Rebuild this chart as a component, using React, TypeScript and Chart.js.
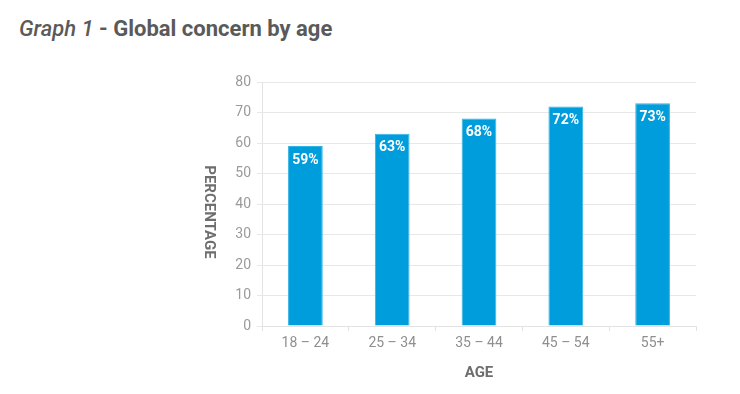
import React, { useEffect, useRef } from "react";
import { Chart, registerables } from "chart.js";

Chart.register(...registerables);

const categories = ["18 – 24", "25 – 34", "35 – 44", "45 – 54", "55+"];
const values = [59, 63, 68, 72, 73];
const yTicks = [0, 10, 20, 30, 40, 50, 60, 70, 80];

const FONT = "Roboto, 'Noto Sans', sans-serif";

const barLabelPlugin = {
  id: "barLabels",
  afterDatasetsDraw(chart: any) {
    const ctx = chart.ctx;
    const meta = chart.getDatasetMeta(0);
    ctx.save();
    ctx.fillStyle = "#ffffff";
    ctx.font = `bold 14px ${FONT}`;
    ctx.textAlign = "center";
    ctx.textBaseline = "middle";
    meta.data.forEach((bar: any, i: number) => {
      ctx.fillText(`${values[i]}%`, bar.x, bar.y + 14);
    });
    ctx.restore();
  },
};

export default function App() {
  const ref = useRef<HTMLCanvasElement>(null);

  useEffect(() => {
    document.body.style.margin = "0";
    const chart = new Chart(ref.current!, {
      type: "bar",
      data: {
        labels: categories,
        datasets: [
          {
            data: values,
            backgroundColor: "#009ddc",
            borderColor: "#33b3e6",
            borderWidth: 1,
            barPercentage: 0.4,
            categoryPercentage: 1,
          },
        ],
      },
      options: {
        animation: false,
        responsive: false,
        devicePixelRatio: 1,
        layout: { padding: { left: 222, right: 44, top: 82, bottom: 38 } },
        plugins: {
          legend: { display: false },
          tooltip: { enabled: false },
        },
        scales: {
          x: {
            afterFit: (s: any) => {
              s.height = 30;
            },
            grid: {
              display: true,
              drawOnChartArea: false,
              drawTicks: true,
              tickLength: 5,
              color: "#e3e3e3",
            },
            border: { display: true, color: "#e3e3e3" },
            ticks: {
              color: "#8f8f8f",
              font: { family: FONT, size: 14 },
              padding: 4,
            },
          },
          y: {
            min: 0,
            max: 80,
            afterFit: (s: any) => {
              s.width = 40;
            },
            afterBuildTicks: (s: any) => {
              s.ticks = yTicks.map((v) => ({ value: v }));
            },
            grid: { color: "#e8e8e8", tickLength: 5 },
            border: { display: true, color: "#e3e3e3" },
            ticks: {
              color: "#9a9a9a",
              font: { family: FONT, size: 14 },
              padding: 6,
            },
          },
        },
      },
      plugins: [barLabelPlugin],
    });
    return () => chart.destroy();
  }, []);

  return (
    <div style={{ position: "relative", width: 740, height: 394, background: "#fff", fontFamily: FONT }}>
      <div
        style={{
          position: "absolute",
          left: 19,
          top: 14,
          fontSize: 22,
          color: "#5a5a5a",
          whiteSpace: "nowrap",
          lineHeight: "30px",
        }}
      >
        <span style={{ fontStyle: "italic", fontWeight: 500 }}>Graph 1</span>
        <span style={{ fontWeight: 700 }}> - Global concern by age</span>
      </div>
      <canvas ref={ref} width={740} height={394} style={{ position: "absolute", left: 0, top: 0 }} />
      <div
        style={{
          position: "absolute",
          left: 200,
          top: 212,
          transform: "translateY(-50%)",
          writingMode: "vertical-rl",
          fontSize: 15,
          fontWeight: 700,
          color: "#6e6e6e",
          lineHeight: "20px",
          whiteSpace: "nowrap",
        }}
      >
        PERCENTAGE
      </div>
      <div
        style={{
          position: "absolute",
          left: 479,
          top: 372,
          transform: "translate(-50%, -50%)",
          fontSize: 15,
          fontWeight: 700,
          color: "#6e6e6e",
          lineHeight: "20px",
          whiteSpace: "nowrap",
        }}
      >
        AGE
      </div>
    </div>
  );
}
